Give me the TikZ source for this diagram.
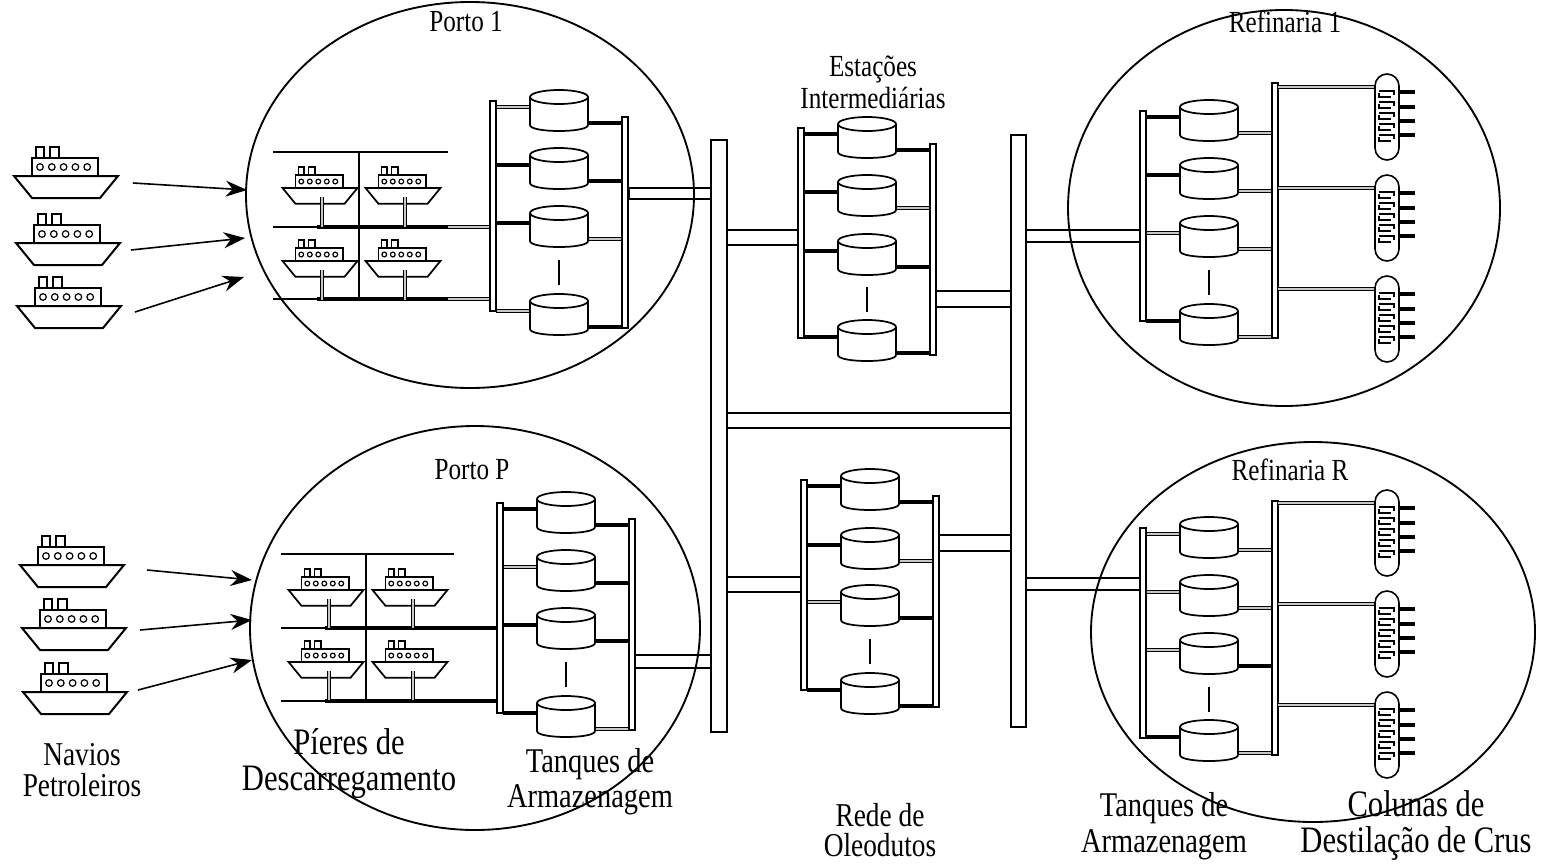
\documentclass[tikz,border=0pt]{standalone}
\usepackage{fontspec}
\setmainfont{Liberation Serif}[FakeStretch=0.82]
\usetikzlibrary{arrows.meta}

\tikzset{
  contorno/.style={line width=1.4pt},
  fino/.style={line width=1.1pt},
  tubo/.style={line width=3.2pt},
  tubocinza/.style={line width=0.9pt, double=gray!45, double distance=1.5pt},
  barra/.style={draw, fill=white, line width=0.9pt},
  duto/.style={draw, fill=white, line width=1.1pt},
  seta/.style={line width=1.2pt, -{Stealth[length=16pt,width=12pt]}},
  titulo/.style={font=\fontsize{23}{24}\selectfont, inner sep=0pt},
  rotulo/.style={font=\fontsize{25}{23}\selectfont, align=center, inner sep=0pt},
  % pics are drawn with y growing downwards, like the picture
  navio/.pic={
    \begin{scope}[yscale=-1]
    \draw[fill=white] (-52,0) -- (52,0) -- (34,22) -- (-34,22) -- cycle;
    \draw[fill=white] (-34,-18) rectangle (32,0);
    \draw (-30,-18) rectangle (-22,-29) (-16,-18) rectangle (-7,-29);
    \foreach \k in {0,...,4} \draw[line width=0.9pt] (-26+11.8*\k,-9) circle (3.3);
    \end{scope}
  },
  tanque/.pic={
    \begin{scope}[yscale=-1]
    \filldraw[fill=white, line width=1.3pt] (-29,0) -- (-29,28) .. controls (-29,36) and (29,36) .. (29,28) -- (29,0);
    \draw[fill=white, line width=1.3pt] (0,0) ellipse [x radius=29, y radius=7];
    \end{scope}
  },
  coluna/.pic={
    \begin{scope}[yscale=-1]
    \draw[fill=white, line width=1.2pt, rounded corners=9pt] (-12,0) rectangle (12,86);
    \foreach \k in {0,...,4} {
      \draw[line width=0.9pt] (-8,17+11*\k) -- (7,17+11*\k) -- (7,21+11*\k);
      \draw[line width=0.9pt] (-8,19+11*\k) -- (-8,23+11*\k) -- (4,23+11*\k);
    }
    \foreach \y in {18,33,47,61} \draw[tubo] (12,\y) -- (28,\y);
    \end{scope}
  },
}

% tanks of one bank: x of tanks, top of first tank, top of right manifold, list of offset/left pipe/right pipe
\newcommand{\tankbank}[4]{%
  \foreach \dy/\te/\td in {#4}{
    \draw[\te] (#1-63,#2+\dy+10) -- (#1-27,#2+\dy+10);
    \draw[\td] (#1+27,#2+\dy+26) -- (#1+63,#2+\dy+26);
    \pic at (#1,#2+\dy) {tanque};
  }
  \draw[fino] (#1,#2+163) -- (#1,#2+188);
  \draw[barra] (#1-69,#2+4) rectangle (#1-63,#2+214);
  \draw[barra] (#1+63,#3) rectangle (#1+69,#2+231);
}

\begin{document}
\begin{tikzpicture}[x=0.75pt,y=0.75pt,yscale=-1,xscale=1]
\path[use as bounding box] (0,0) rectangle (1548,864);

% Ships and arrows into Porto 1
\foreach \x/\y in {66/176, 68/243, 69/306}
  \pic[line width=1.5pt] at (\x,\y) {navio};
\coordinate (a1) at (133,183); \coordinate (b1) at (247,190);
\coordinate (a2) at (131,250); \coordinate (b2) at (245,238);
\coordinate (a3) at (135,312); \coordinate (b3) at (244,277);
\draw[seta] (a1) -- (b1);
\draw[seta] (a2) -- (b2);
\draw[seta] (a3) -- (b3);

% Ships and arrows into Porto P
\foreach \x/\y in {72/565, 74/628, 75/692}
  \pic[line width=1.5pt] at (\x,\y) {navio};
\coordinate (c1) at (147,570); \coordinate (d1) at (252,580);
\coordinate (c2) at (140,630); \coordinate (d2) at (252,620);
\coordinate (c3) at (138,690); \coordinate (d3) at (252,660);
\draw[seta] (c1) -- (d1);
\draw[seta] (c2) -- (d2);
\draw[seta] (c3) -- (d3);

% Piers of Porto 1
\draw[fino] (273,152) -- (448,152);
\draw[fino] (359,152) -- (359,299);
\draw[fino] (273,227) -- (317,227);
\draw[fino] (273,299) -- (317,299);
\foreach \y in {227,299} {
  \draw[tubo] (317,\y) -- (448,\y);
  \draw[tubocinza] (448,\y) -- (490,\y);
}
\foreach \x/\y in {320/188, 403/188, 320/261, 403/261} {
  \pic[scale=0.72, line width=1.3pt] at (\x,\y) {navio};
  \draw[tubocinza] (\x+2,\y+9) -- (\x+2,\y+39);
}

% Piers of Porto P
\draw[fino] (281,554) -- (454,554);
\draw[fino] (366,554) -- (366,701);
\draw[fino] (281,628) -- (325,628);
\draw[fino] (281,701) -- (325,701);
\draw[tubo] (325,628) -- (497,628);
\draw[tubo] (325,701) -- (497,701);
\foreach \x/\y in {326/590, 410/590, 326/662, 410/662} {
  \pic[scale=0.72, line width=1.3pt] at (\x,\y) {navio};
  \draw[tubocinza] (\x+3,\y+9) -- (\x+3,\y+38);
}

% Storage tanks
\tankbank{559}{97}{117}{0/tubocinza/tubo, 58/tubo/tubo, 116/tubo/tubocinza, 204/tubocinza/tubo}
\tankbank{566}{499}{519}{0/tubo/tubo, 58/tubocinza/tubo, 116/tubo/tubo, 204/tubo/tubocinza}
\tankbank{867}{124}{144}{0/tubo/tubo, 58/tubo/tubocinza, 117/tubo/tubo, 203/tubo/tubo}
\tankbank{870}{476}{496}{0/tubo/tubo, 59/tubo/tubocinza, 116/tubocinza/tubo, 204/tubo/tubo}
\tankbank{1209}{107}{83}{0/tubo/tubocinza, 58/tubo/tubocinza, 116/tubocinza/tubocinza, 204/tubo/tubocinza}
\tankbank{1209}{524}{501}{0/tubocinza/tubocinza, 58/tubocinza/tubocinza, 116/tubocinza/tubo, 203/tubo/tubocinza}

% Distillation columns
\foreach \y in {74,175,276,490,591,692} {
  \draw[tubocinza] (1278,\y+13) -- (1377,\y+13);
  \pic at (1387,\y) {coluna};
}

% Pipeline network
\draw[duto] (629,188) rectangle (711,199);
\draw[duto] (635,655) rectangle (711,668);
\draw[duto] (727,230) rectangle (798,245);
\draw[duto] (936,291) rectangle (1011,307);
\draw[duto] (727,413) rectangle (1011,428);
\draw[duto] (727,577) rectangle (801,592);
\draw[duto] (939,535) rectangle (1011,551);
\draw[duto] (1026,230) rectangle (1140,242);
\draw[duto] (1026,578) rectangle (1140,590);
\draw[duto] (711,140) rectangle (727,732);
\draw[duto] (1011,135) rectangle (1026,727);

% Text Node
\node[titulo] (porto1) at (466,22) {Porto 1};
\node[titulo] (portoP) at (472,470) {Porto P};
\node[titulo] (ref1) at (1285,22) {Refinaria 1};
\node[titulo] (refR) at (1290,470) {Refinaria R};
\node[titulo, align=center] (estacoes) at (873,82) {Estações\\Intermediárias};
\node[rotulo] (navios) at (82,770) {Navios\\Petroleiros};
\node[rotulo, font=\fontsize{28}{27}\selectfont] (pieres) at (349,764) {Píeres de\\Descarregamento};
\node[rotulo, font=\fontsize{26}{26}\selectfont] (tanq1) at (590,782) {Tanques de\\Armazenagem};
\node[rotulo] (rede) at (880,830) {Rede de\\Oleodutos};
\node[rotulo, font=\fontsize{26}{27}\selectfont] (tanq2) at (1164,826) {Tanques de\\Armazenagem};
\node[rotulo, font=\fontsize{28}{27}\selectfont] (colunas) at (1416,826) {Colunas de\\Destilação de Crus};

% Port and refinery outlines
\draw[contorno] (470,195) ellipse [x radius=224, y radius=193];
\draw[contorno] (475,628) ellipse [x radius=225, y radius=202];
\draw[contorno] (1284,208) ellipse [x radius=216, y radius=198];
\draw[contorno] (1313,632) ellipse [x radius=222, y radius=190];

\end{tikzpicture}
\end{document}
